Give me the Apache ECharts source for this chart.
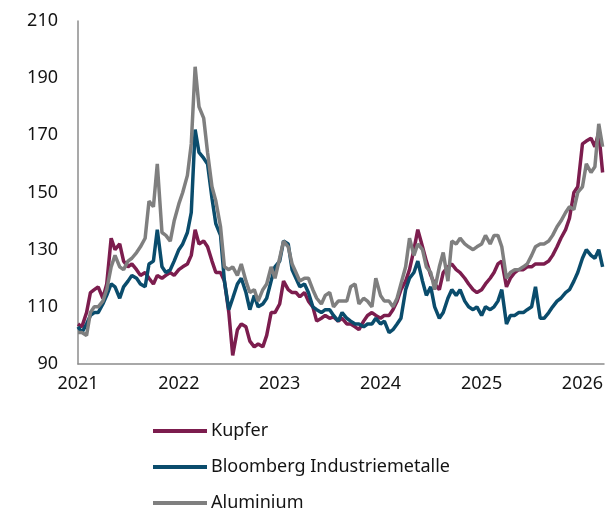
<!DOCTYPE html>
<html>
<head>
<meta charset="utf-8">
<script src="https://cdn.jsdelivr.net/npm/echarts@6/dist/echarts.min.js"></script>
<style>
  html, body { margin: 0; padding: 0; background: #fff; }
  #chart { width: 615px; height: 513px; }
</style>
</head>
<body>
<div id="chart"></div>
<script>
// Stichtage: 1. und 15. jedes Monats, Jan 2021 bis Mitte Maerz 2026
var dates = [];
for (var y = 2021; y <= 2026 && dates.length < 126; y++) {
  for (var m = 1; m <= 12 && dates.length < 126; m++) {
    var mm = (m < 10 ? "0" : "") + m;
    dates.push(y + "-" + mm + "-01");
    if (dates.length < 126) dates.push(y + "-" + mm + "-15");
  }
}

var seriesNames = ["Kupfer", "Bloomberg Industriemetalle", "Aluminium"];

var kupfer = [
  104, 103, 108, 115, 116, 117, 113, 118, 134, 130, 132, 126,
  124, 125, 123, 121, 122, 120, 118, 121, 120, 121, 122, 121,
  123, 124, 125, 128, 137, 132, 133, 131, 126, 122, 122, 119,
  108, 93, 102, 104, 103, 98, 96, 97, 96, 100, 108, 108,
  111, 119, 116, 115, 115, 113.5, 115, 112, 110, 105, 106, 107,
  106, 106.5, 105, 106, 104, 104, 103, 102, 105, 107, 108, 107,
  106, 107, 107, 109, 112, 116, 119, 123, 130, 137, 131, 126,
  121, 118, 116, 122, 124, 125, 123, 122, 120, 118, 116, 115,
  116, 118, 120, 122, 125, 126, 117, 120, 122, 123, 123, 124,
  124, 125, 125, 125, 126, 128, 131, 134, 137, 141, 150, 152,
  167, 168, 169, 166, 171, 157
];

var bloomberg = [
  103, 101, 104, 107, 108, 108, 111, 114, 118, 117, 113, 117,
  119, 121, 120, 118, 117, 125, 126, 137, 124, 122, 123, 126,
  130, 132, 136, 143, 172, 164, 162, 160, 148, 139, 135, 119,
  109, 113, 118, 120, 115, 109, 114, 110, 111, 113, 119, 124,
  126, 133, 132, 123, 120, 117, 118, 115, 110, 109, 108, 109,
  109, 107, 105, 108, 106, 105, 104, 104, 103, 104, 104, 106,
  104, 105, 101, 102, 104, 106, 116, 120, 122, 126, 119, 114,
  117, 110, 106, 108, 113, 116, 114, 116, 112, 110, 109, 110,
  107, 110, 109, 110, 112, 116, 104, 107, 107, 108, 108, 109,
  110, 117, 106, 106, 108, 110, 112, 113, 115, 116, 119, 122,
  127, 130, 128, 127, 130, 124
];

var aluminium = [
  101, 101, 100, 108, 110, 110, 112, 116, 124, 128, 124, 123,
  126, 127, 129, 131, 134, 147, 145, 160, 136, 135, 133, 140,
  146, 150, 156, 167, 194, 180, 176, 164, 152, 147, 138, 124,
  123, 124, 121, 125, 119, 115, 116, 112, 116, 118, 124, 120,
  127, 133, 131, 125, 122, 119, 120, 120, 116, 113, 111, 114,
  115, 110, 112, 112, 112, 117, 118, 111, 113, 112, 110, 120,
  114, 112, 112, 110, 113, 118, 124, 134, 128, 132, 130, 124,
  122, 116, 124, 129, 119, 133, 132, 134, 132, 131, 130, 131,
  132, 135, 132, 135, 135, 131, 120, 122, 123, 123, 124, 125,
  128, 131, 132, 132, 133, 135, 138, 140, 143, 145, 144, 150,
  152, 160, 157, 159, 174, 166
];

var yTicks = { min: 90, max: 210, interval: 20 };
var colors = ["#7c1d4e", "#0a4c6c", "#7f7f7f"];

function pairs(values) {
  return values.map(function (v, i) { return [dates[i], v]; });
}

var chart = echarts.init(document.getElementById("chart"), null, { renderer: "canvas" });
var textColor = "#141414";
var fontFamily = "'Noto Sans', 'Open Sans', sans-serif";
var yearMs = 365 * 24 * 3600 * 1000;

chart.setOption({
  animation: false,
  color: colors,
  grid: { left: 78, right: 11, top: 21, bottom: 149, containLabel: false },
  legend: {
    orient: "vertical",
    left: 153,
    top: 421,
    height: 120,
    padding: 0,
    icon: "rect",
    itemWidth: 54,
    itemHeight: 4,
    itemGap: 16,
    selectedMode: false,
    textStyle: { color: textColor, fontSize: 18, fontFamily: fontFamily, lineHeight: 20, padding: [0, 0, 0, -1] },
    data: seriesNames
  },
  xAxis: {
    type: "time",
    min: "2021-01-01",
    max: "2026-03-20",
    minInterval: yearMs,
    maxInterval: yearMs + 24 * 3600 * 1000,
    axisLine: { show: true, lineStyle: { color: "#8c8c8c", width: 1.5 } },
    axisTick: { show: false },
    splitLine: { show: false },
    axisLabel: {
      color: textColor,
      fontSize: 18,
      fontFamily: fontFamily,
      margin: 11,
      showMinLabel: true,
      formatter: "{yyyy}"
    }
  },
  yAxis: {
    type: "value",
    min: yTicks.min,
    max: yTicks.max,
    interval: yTicks.interval,
    axisLine: { show: true, lineStyle: { color: "#8c8c8c", width: 1.5 } },
    axisTick: { show: false },
    splitLine: { show: false },
    axisLabel: { color: textColor, fontSize: 18, fontFamily: fontFamily, margin: 20 }
  },
  series: [
    { name: seriesNames[0], type: "line", data: pairs(kupfer), symbol: "none", lineStyle: { width: 3.5, color: colors[0] } },
    { name: seriesNames[1], type: "line", data: pairs(bloomberg), symbol: "none", lineStyle: { width: 3.5, color: colors[1] } },
    { name: seriesNames[2], type: "line", data: pairs(aluminium), symbol: "none", lineStyle: { width: 3.5, color: colors[2] } }
  ]
});
</script>
</body>
</html>
